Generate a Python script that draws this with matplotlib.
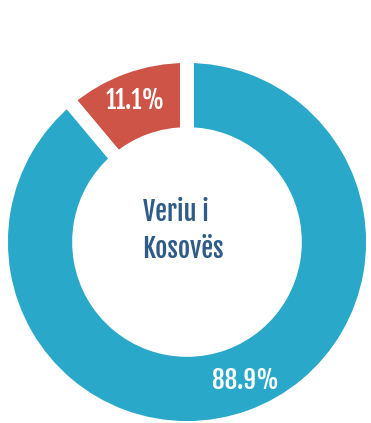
import numpy as np
import matplotlib.pyplot as plt

# share of the two groups in the region
values = [11.1, 88.9]
colors = ['#cd5446', '#29a8c9']
center_label = 'Veriu i\nKosovës'

font = ['Fjalla One', 'Oswald', 'DejaVu Sans']

fig = plt.figure(figsize=(3.71, 4.23), dpi=100)
W, H = 371, 423
R = 186  # pie radius in px
cx, cy = 187, 423 - 242
ax = fig.add_axes([(cx - R) / W, (cy - R) / H, 2 * R / W, 2 * R / H])

wedges, texts, autotexts = ax.pie(
    values, colors=colors, startangle=90, counterclock=True,
    radius=1, autopct='%.1f%%', pctdistance=0.81,
    wedgeprops=dict(width=0.42, edgecolor='white', linewidth=10),
    textprops=dict(color='white', fontsize=18, family=font))
ax.set_xlim(-1, 1)
ax.set_ylim(-1, 1)

# nudge the big label a bit along the ring
w = wedges[1]
ang = np.deg2rad((w.theta1 + w.theta2) / 2 + 3)
autotexts[1].set_position((0.81 * np.cos(ang), 0.81 * np.sin(ang)))

ax.text(-0.02, 0.06, center_label, ha='center', va='center', fontsize=19,
        color='#2e5b87', linespacing=1.3, multialignment='left', family=font)

fig.savefig('out.png', dpi=100)
